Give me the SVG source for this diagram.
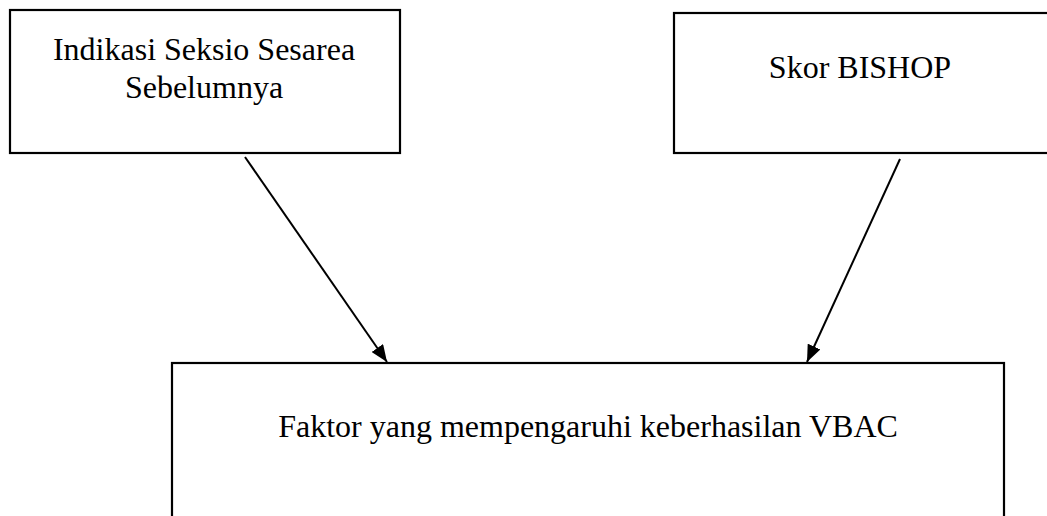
<svg xmlns="http://www.w3.org/2000/svg" width="1047" height="516" viewBox="0 0 1047 516">
<style>
.box{fill:#fff;stroke:#000;stroke-width:2.2}
.lbl{font-family:"Liberation Serif","Times New Roman",serif;font-size:32px;fill:#000;text-anchor:middle}
.con{stroke:#000;stroke-width:2;fill:none;marker-end:url(#ah)}
</style>
<defs>
<marker id="ah" markerWidth="17" markerHeight="14" refX="17" refY="7" orient="auto" markerUnits="userSpaceOnUse">
<path d="M0,0 L17,7 L0,14 Z" fill="#000"/>
</marker>
</defs>
<rect width="1047" height="516" fill="#fff"/>
<g id="node-indikasi">
<rect class="box" x="10" y="10" width="390" height="143"/>
<text class="lbl" x="204" y="60">Indikasi Seksio Sesarea</text>
<text class="lbl" x="204" y="98">Sebelumnya</text>
</g>
<g id="node-bishop">
<rect class="box" x="674" y="13" width="380" height="140"/>
<text class="lbl" x="860" y="78">Skor BISHOP</text>
</g>
<g id="node-faktor">
<rect class="box" x="172" y="363" width="832" height="170"/>
<text class="lbl" x="588" y="437">Faktor yang mempengaruhi keberhasilan VBAC</text>
</g>
<g id="connectors">
<line class="con" x1="245" y1="157" x2="387" y2="362"/>
<line class="con" x1="900" y1="159" x2="807" y2="362"/>
</g>
</svg>
